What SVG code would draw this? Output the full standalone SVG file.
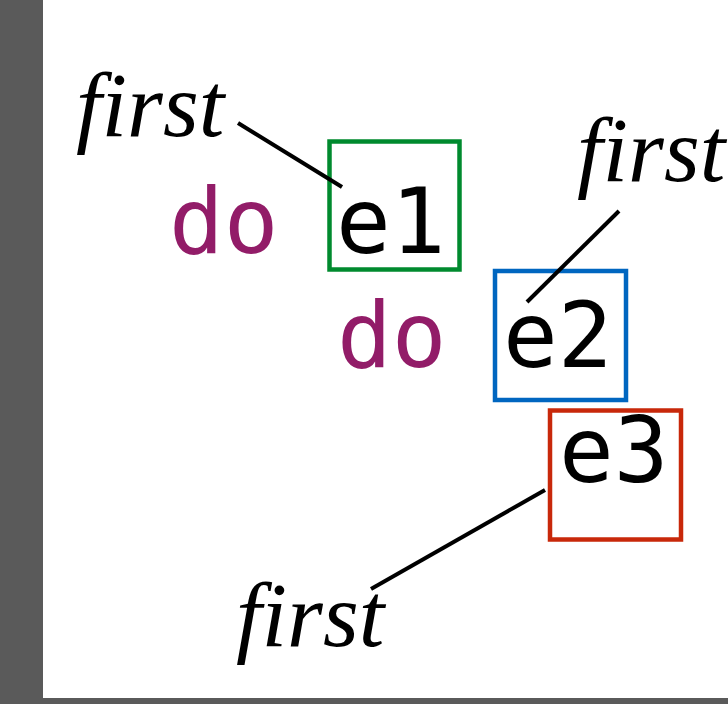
<svg xmlns="http://www.w3.org/2000/svg" width="728" height="704" viewBox="0 0 728 704">
<style>
.bg{fill:#ffffff}
.frame{fill:#5a5a5a}
.box{fill:none;stroke-width:4.5}
.kw{font-family:"DejaVu Sans Mono",monospace;font-size:91px;fill:#921c68}
.ex{font-family:"DejaVu Sans Mono",monospace;font-size:91px;fill:#000000}
.lbl{font-family:"Liberation Serif","Times New Roman",serif;font-style:italic;font-size:92px;fill:#000000}
.conn{stroke:#000000;stroke-width:4;fill:none}
</style>
<rect class="frame" x="0" y="0" width="728" height="704"/>
<rect class="bg" x="43" y="0" width="685" height="698"/>
<g id="node-e1">
<rect class="box" x="329.5" y="141.5" width="130" height="128" stroke="#008a2e"/>
<text class="ex" x="336" y="253">e1</text>
</g>
<g id="node-e2">
<rect class="box" x="495" y="271" width="131" height="129" stroke="#0066c0"/>
<text class="ex" x="503" y="367">e2</text>
</g>
<g id="node-e3">
<rect class="box" x="550" y="410.5" width="131" height="129" stroke="#c8280a"/>
<text class="ex" x="559" y="482">e3</text>
</g>
<g id="kw-do1"><text class="kw" x="169" y="253">do</text></g>
<g id="kw-do2"><text class="kw" x="337" y="367">do</text></g>
<g id="label-first1"><text class="lbl" x="76" y="136">first</text></g>
<g id="label-first2"><text class="lbl" x="577" y="181">first</text></g>
<g id="label-first3"><text class="lbl" x="236" y="646">first</text></g>
<g id="connectors">
<line class="conn" x1="238" y1="123" x2="342" y2="187"/>
<line class="conn" x1="619" y1="211" x2="527" y2="302"/>
<line class="conn" x1="545" y1="490" x2="371" y2="589"/>
</g>
</svg>
